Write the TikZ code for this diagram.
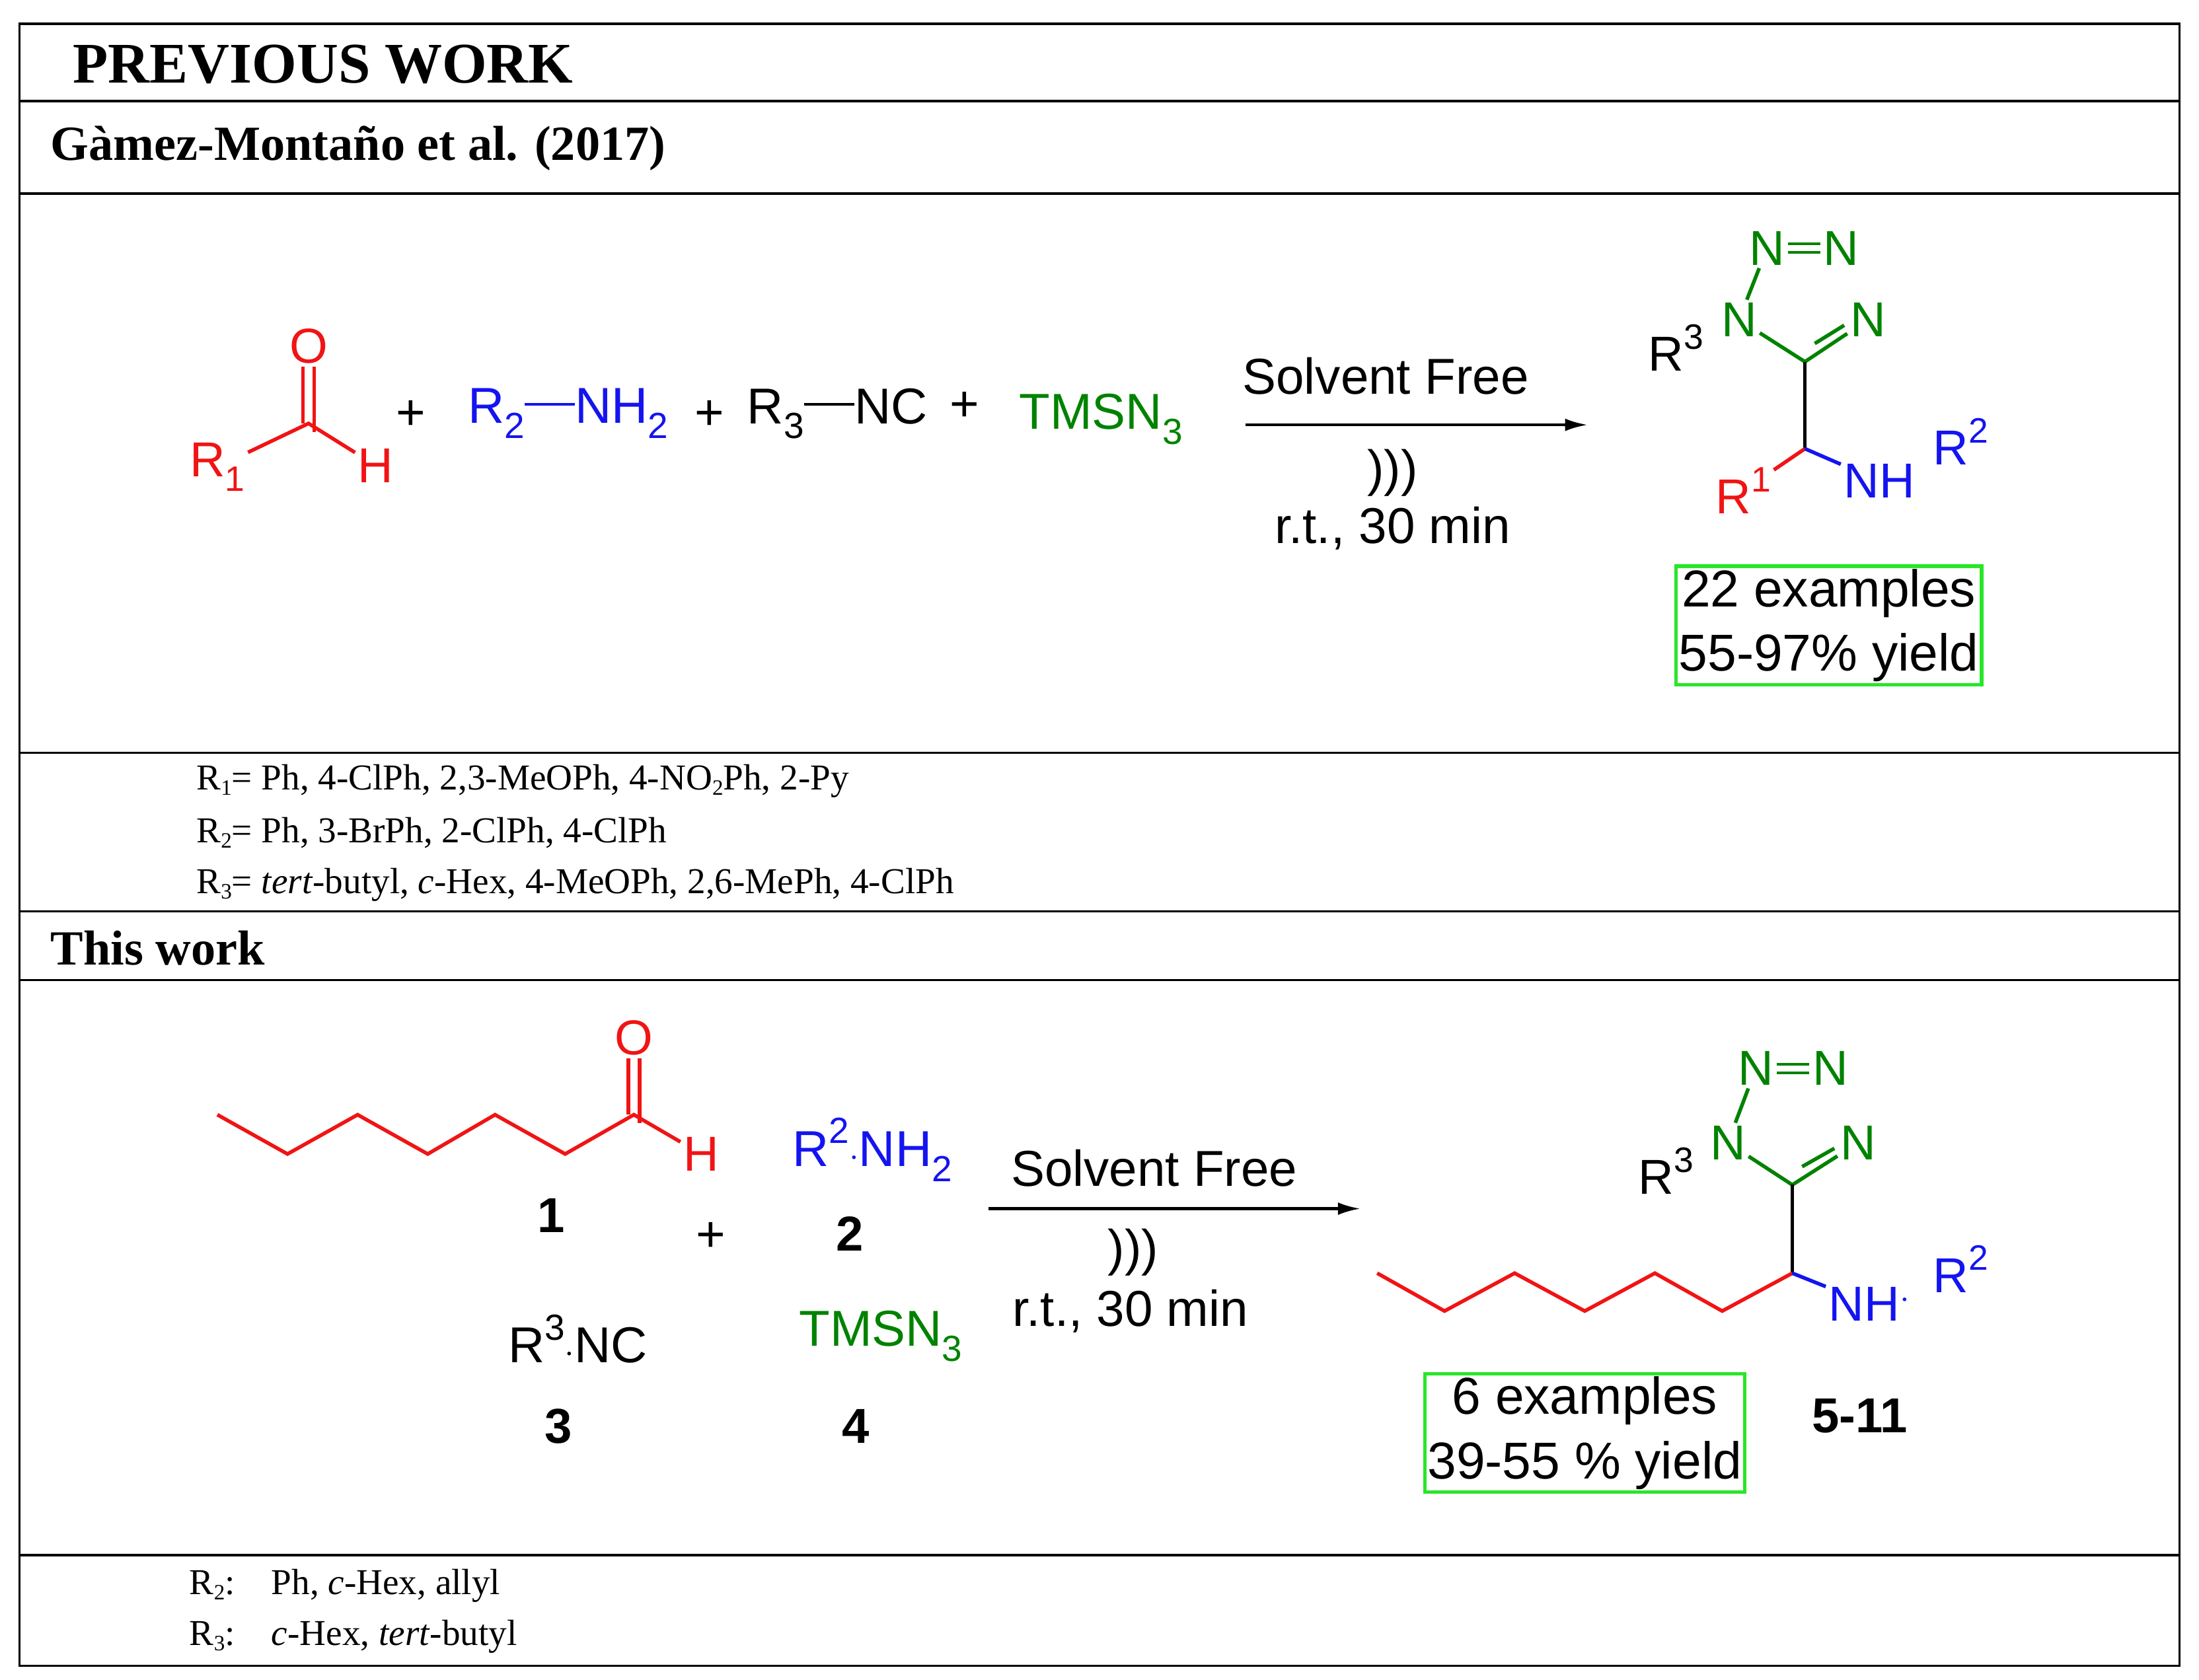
\documentclass[tikz,border=0pt]{standalone}
\usetikzlibrary{arrows.meta}
\usepackage{fontspec}
\setmainfont{Liberation Serif}
\newfontfamily\sans{Liberation Sans}
\newcommand\sbs[1]{\raisebox{-0.3em}{\scalebox{0.72}{#1}}}
\newcommand\sps[1]{\raisebox{0.45em}{\scalebox{0.72}{#1}}}
\newcommand\nsb[1]{\raisebox{-0.15em}{\scalebox{0.6}{#1}}}
\definecolor{chred}{RGB}{240,20,20}
\definecolor{chblue}{RGB}{20,20,240}
\definecolor{chgreen}{RGB}{0,130,0}
\definecolor{boxgreen}{RGB}{40,230,40}
\begin{document}
\begin{tikzpicture}[x=1pt,y=-1pt,
  lab/.style={font=\sans\fontsize{36}{40}\selectfont,inner sep=1pt},
  atom/.style={font=\sans\fontsize{35}{38}\selectfont,inner sep=2pt},
  num/.style={font=\sans\bfseries\fontsize{35}{38}\selectfont},
  note/.style={font=\fontsize{26}{30}\selectfont,anchor=west,inner sep=0pt},
  head/.style={font=\bfseries\fontsize{35}{38}\selectfont,anchor=west,inner sep=0pt},
  bond/.style={line width=2.6pt},
  exbox/.style={draw=boxgreen,line width=2.5pt,font=\sans\fontsize{37}{46}\selectfont,align=center,inner sep=2pt},
  frame/.style={line width=1.6pt}]
\useasboundingbox (0,0) rectangle (1568,1198);
\draw[frame] (14,17) rectangle (1554,1188);
\foreach \yy in {72,138,537,650,699,1109} \draw[frame] (14,\yy) -- (1554,\yy);
\node[head,font=\bfseries\fontsize{41}{44}\selectfont] (t1) at (52,46) {PREVIOUS WORK};
\node[head] (t2) at (36,106) {Gàmez-Montaño et al. (2017)};
\node[head] (t3) at (36,676) {This work};
% top reaction
\begin{scope}[chred]
\node[atom] (r1) at (155,333) {R\sbs{1}};
\coordinate (c1) at (220,302);
\node[atom] (o1) at (220,247) {O};
\node[atom] (h1) at (268,332) {H};
\draw[bond] (r1) -- (c1) -- (h1);
\draw[bond] ([xshift=-4pt]o1.south) -- ([xshift=-4pt]c1);
\draw[bond] ([xshift=4pt]o1.south) -- ([xshift=4pt,yshift=-6pt]c1);
\end{scope}
\node[lab] (p1) at (293,296) {+};
\node[lab,chblue] (am1) at (405,295) {R\sbs{2}\rule[0.35em]{1.0em}{2.2pt}NH\sbs{2}};
\node[lab] (p2) at (506,296) {+};
\node[lab] (ic1) at (597,295) {R\sbs{3}\rule[0.35em]{1.0em}{2.2pt}NC};
\node[lab] (p3) at (688,290) {+};
\node[lab,chgreen] (az1) at (785,299) {TMSN\sbs{3}};
\coordinate (a1s) at (888,303); \coordinate (a1e) at (1132,303);
\draw[line width=2pt,-{Latex[length=16pt,width=9pt]}] (a1s) -- (a1e);
\node[lab] (sf1) at (988,268) {Solvent Free};
\node[lab] (us1) at (993,337) {)))};
\node[lab] (rt1) at (993,377) {r.t., 30 min};
% product 1
\begin{scope}[chgreen]
\node[atom] (n1) at (1240,228) {N};
\node[atom] (n2) at (1260,177) {N};
\node[atom] (n3) at (1313,177) {N};
\node[atom] (n4) at (1332,228) {N};
\coordinate (c5) at (1287,258);
\coordinate (c5i) at (1294,245);
\coordinate (n4i) at (1315,232);
\draw[bond] (n1) -- (n2);
\draw[bond,double,double distance=4pt,line width=2pt] (n2) -- (n3);
\draw[bond] (n1) -- (c5) -- (n4);
\draw[bond] (c5i) -- (n4i);
\end{scope}
\node[atom] (r3a) at (1195,248) {R\sps{3}};
\coordinate (ch1) at (1287,320);
\node[atom,chred] (r1b) at (1243,350) {R\sps{1}};
\node[atom,chblue] (nh1) at (1340,343) {NH};
\node[atom,chblue] (r2b) at (1398,315) {R\sps{2}};
\draw[bond] (c5) -- (ch1);
\draw[bond,chred] (ch1) -- (r1b);
\draw[bond,chblue] (ch1) -- (nh1);
\node[exbox] (ex1) at (1304,446) {22 examples\\55-97\% yield};
\node[note] (nt1) at (140,557) {R\nsb{1}= Ph, 4-ClPh, 2,3-MeOPh, 4-NO\nsb{2}Ph, 2-Py};
\node[note] (nt2) at (140,594) {R\nsb{2}= Ph, 3-BrPh, 2-ClPh, 4-ClPh};
\node[note] (nt3) at (140,631) {R\nsb{3}= \textit{tert}-butyl, \textit{c}-Hex, 4-MeOPh, 2,6-MePh, 4-ClPh};
% bottom reaction
\begin{scope}[chred]
\node[atom] (o2) at (452,740) {O};
\node[atom] (h2) at (500,823) {H};
\coordinate (c2) at (452,795);
\draw[bond] (155,795) -- (205,823) -- (255,795) -- (305,823) -- (353,795) -- (403,823) -- (c2) -- (h2);
\draw[bond] ([xshift=-4pt]o2.south) -- ([xshift=-4pt]c2);
\draw[bond] ([xshift=4pt]o2.south) -- ([xshift=4pt,yshift=-6pt]c2);
\end{scope}
\node[num] (l1) at (393,867) {1};
\node[lab] (p4) at (507,882) {+};
\node[lab,chblue] (am2) at (622,820) {R\sps{2}$\cdot$NH\sbs{2}};
\node[num] (l2) at (606,880) {2};
\node[lab] (ic2) at (412,955) {R\sps{3}$\cdot$NC};
\node[num] (l3) at (398,1017) {3};
\node[lab,chgreen] (az2) at (628,953) {TMSN\sbs{3}};
\node[num] (l4) at (610,1017) {4};
\coordinate (a2s) at (705,862); \coordinate (a2e) at (970,862);
\draw[line width=2pt,-{Latex[length=16pt,width=9pt]}] (a2s) -- (a2e);
\node[lab] (sf2) at (823,833) {Solvent Free};
\node[lab] (us2) at (808,893) {)))};
\node[lab] (rt2) at (806,935) {r.t., 30 min};
\begin{scope}[chgreen]
\node[atom] (m1) at (1232,815) {N};
\node[atom] (m2) at (1252,762) {N};
\node[atom] (m3) at (1305,762) {N};
\node[atom] (m4) at (1325,815) {N};
\coordinate (d5) at (1278,845);
\coordinate (d5i) at (1285,832);
\coordinate (m4i) at (1308,819);
\draw[bond] (m1) -- (m2);
\draw[bond,double,double distance=4pt,line width=2pt] (m2) -- (m3);
\draw[bond] (m1) -- (d5) -- (m4);
\draw[bond] (d5i) -- (m4i);
\end{scope}
\node[atom] (r3c) at (1188,835) {R\sps{3}};
\coordinate (ch2) at (1278,908);
\node[atom,chblue] (nh2) at (1333,930) {NH$^{\cdot}$};
\node[atom,chblue] (r2c) at (1398,905) {R\sps{2}};
\draw[bond] (d5) -- (ch2);
\draw[bond,chred] (ch2) -- (1228,935) -- (1180,908) -- (1130,935) -- (1080,908) -- (1030,935) -- (982,908);
\draw[bond,chblue] (ch2) -- (nh2);
\node[exbox] (ex2) at (1130,1022) {6 examples\\39-55 \% yield};
\node[num] (l5) at (1326,1010) {5-11};
\node[note] (nt4) at (135,1131) {R\nsb{2}:\quad Ph, \textit{c}-Hex, allyl};
\node[note] (nt5) at (135,1167) {R\nsb{3}:\quad \textit{c}-Hex, \textit{tert}-butyl};
\end{tikzpicture}
\end{document}
